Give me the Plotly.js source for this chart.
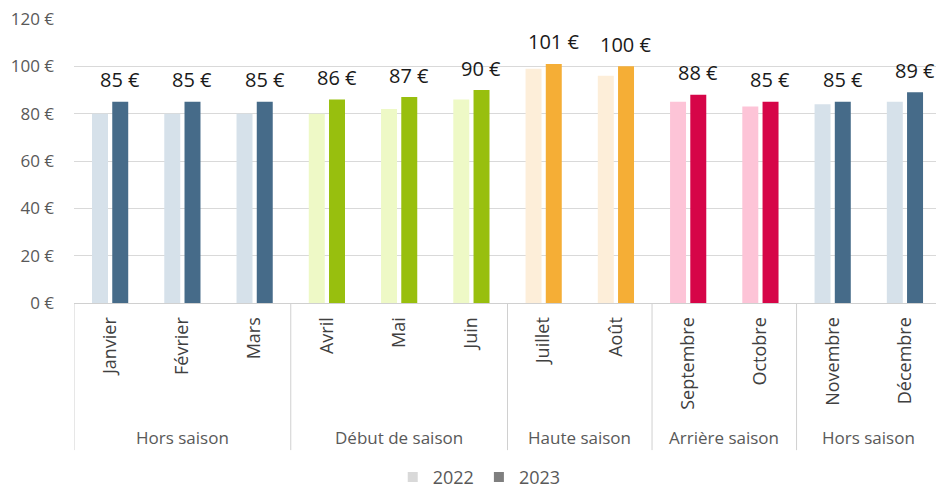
<!DOCTYPE html>
<html>
<head>
<meta charset="utf-8">
<script src="https://cdn.plot.ly/plotly-3.0.1.min.js"></script>
<style>
  html, body { margin: 0; padding: 0; background: #fff; }
  #chart { width: 936px; height: 490px; }
</style>
</head>
<body>
<div id="chart"></div>
<script>
// ---- data ----
const months = ['Janvier', 'Février', 'Mars', 'Avril', 'Mai', 'Juin', 'Juillet', 'Août', 'Septembre', 'Octobre', 'Novembre', 'Décembre'];
const seasons = ['Hors saison', 'Hors saison', 'Hors saison', 'Début de saison', 'Début de saison', 'Début de saison', 'Haute saison', 'Haute saison', 'Arrière saison', 'Arrière saison', 'Hors saison', 'Hors saison'];
const price2022 = [80, 80, 80, 80, 82, 86, 99, 96, 85, 83, 84, 85];
const price2023 = [85, 85, 85, 86, 87, 90, 101, 100, 88, 85, 85, 89];
const seriesNames = ['2022', '2023'];
const yTicks = [0, 20, 40, 60, 80, 100, 120];

// ---- styles ----
const palette = {
  'Hors saison':     { light: '#d6e1ea', dark: '#466b89' },
  'Début de saison': { light: '#eef9c6', dark: '#98bf0e' },
  'Haute saison':    { light: '#fdeed9', dark: '#f5ae36' },
  'Arrière saison':  { light: '#fdc4d7', dark: '#d60548' }
};
const legendColors = ['#d9d9d9', '#7f7f7f'];
const FONT = 'Open Sans, sans-serif';

const traces = [
  {
    type: 'bar', x: months, y: price2022, name: seriesNames[0], showlegend: false,
    marker: { color: seasons.map(s => palette[s].light) }, hoverinfo: 'x+y'
  },
  {
    type: 'bar', x: months, y: price2023, name: seriesNames[1], showlegend: false,
    marker: { color: seasons.map(s => palette[s].dark) }, hoverinfo: 'x+y'
  },
  {
    type: 'scatter', mode: 'markers', x: [null], y: [null], name: seriesNames[0],
    marker: { symbol: 'square', size: 10, color: legendColors[0] }
  },
  {
    type: 'scatter', mode: 'markers', x: [null], y: [null], name: seriesNames[1],
    marker: { symbol: 'square', size: 10, color: legendColors[1] }
  }
];

// value labels above 2023 bars
const annotations = price2023.map((v, i) => ({
  x: months[i], y: v, xref: 'x', yref: 'y',
  text: v + ' €', showarrow: false, xshift: 10, yshift: 22,
  xanchor: 'center', yanchor: 'middle',
  font: { family: FONT, size: 20, color: '#1a1a1a' }
}));

// group labels + separators from consecutive season runs
const shapes = [];
let start = 0;
for (let i = 1; i <= seasons.length; i++) {
  if (i === seasons.length || seasons[i] !== seasons[start]) {
    annotations.push({
      x: (start + i - 1) / 2, y: -0.474, xref: 'x', yref: 'paper',
      text: seasons[start], showarrow: false, xanchor: 'center', yanchor: 'middle',
      font: { family: FONT, size: 17, color: '#595959' }
    });
    start = i;
  }
}
const bounds = [-0.5];
for (let i = 1; i < seasons.length; i++) if (seasons[i] !== seasons[i - 1]) bounds.push(i - 0.5);
bounds.forEach(b => shapes.push({
  type: 'line', xref: 'x', yref: 'paper', x0: b, x1: b, y0: 0, y1: -0.518,
  line: { color: '#d0d0d0', width: 1 }
}));

const layout = {
  width: 936, height: 490,
  margin: { l: 74, r: 0, t: 19, b: 187 },
  paper_bgcolor: '#fff', plot_bgcolor: '#fff',
  barmode: 'group', bargap: 0.44, bargroupgap: 0.21,
  font: { family: FONT, color: '#595959' },
  xaxis: {
    type: 'category', range: [-0.5, 11.43],
    showgrid: false, zeroline: false,
    showline: true, linecolor: '#d0d0d0', linewidth: 1,
    ticks: '', tickangle: -90, ticklabelstandoff: 6,
    tickfont: { family: FONT, size: 18, color: '#404040' }
  },
  yaxis: {
    range: [0, 120], tickvals: yTicks, ticktext: yTicks.map(v => v + ' €'),
    showgrid: true, gridcolor: '#d9d9d9', gridwidth: 1,
    zeroline: false, showline: false, ticks: '', ticklabelstandoff: 19,
    tickfont: { family: FONT, size: 17, color: '#595959' }
  },
  showlegend: true,
  legend: {
    orientation: 'h', xref: 'container', yref: 'container',
    x: 0.512, xanchor: 'center', y: 0.026, yanchor: 'middle',
    font: { family: FONT, size: 18, color: '#595959' },
    itemwidth: 30, traceorder: 'normal', tracegroupgap: 0
  },
  annotations: annotations,
  shapes: shapes
};

Plotly.newPlot('chart', traces, layout, { displayModeBar: false, staticPlot: true });
</script>
</body>
</html>
